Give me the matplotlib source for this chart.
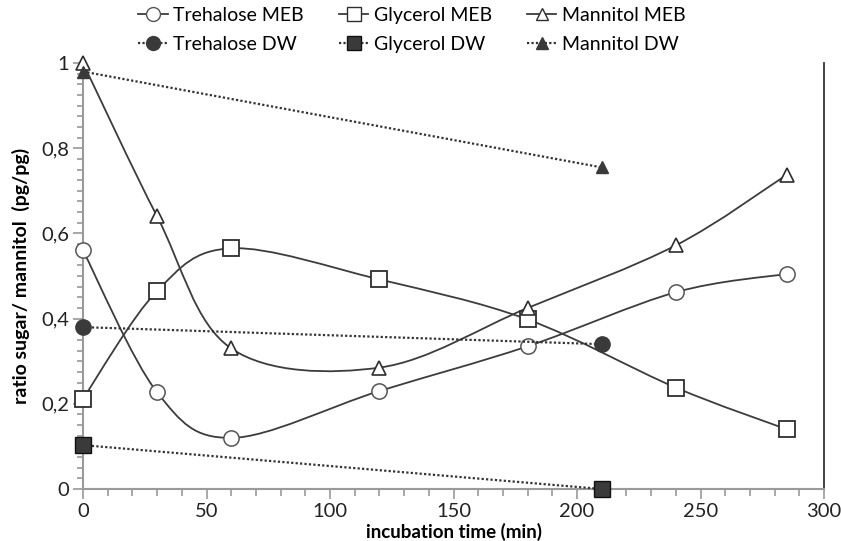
import numpy as np
import matplotlib
matplotlib.use('Agg')
import matplotlib.pyplot as plt
from matplotlib.path import Path
from matplotlib.patches import PathPatch
from matplotlib.lines import Line2D
from matplotlib.ticker import MultipleLocator, FuncFormatter

plt.rcParams['font.family'] = ['Lato', 'DejaVu Sans']

# data
t_meb = [0, 30, 60, 120, 180, 240, 285]
trehalose_meb = [0.56, 0.227, 0.12, 0.23, 0.335, 0.462, 0.505]
glycerol_meb = [0.212, 0.465, 0.565, 0.492, 0.398, 0.238, 0.14]
mannitol_meb = [1.0, 0.64, 0.33, 0.285, 0.425, 0.572, 0.738]

t_dw = [0, 210]
trehalose_dw = [0.38, 0.34]
glycerol_dw = [0.103, 0.0]
mannitol_dw = [0.98, 0.755]

line_col = '#3c3c3c'
mark_col = '#3a3a3a'
dots = (0, (1, 1.0))


def smooth_path(x, y):
    # excel-like smoothed line: catmull-rom as bezier segments
    p = np.column_stack([x, y]).astype(float)
    n = len(p)
    verts = [p[0]]
    codes = [Path.MOVETO]
    for i in range(n - 1):
        p0 = p[i - 1] if i > 0 else p[i]
        p3 = p[i + 2] if i + 2 < n else p[i + 1]
        c1 = p[i] + (p[i + 1] - p0) / 6.0
        c2 = p[i + 1] - (p3 - p[i]) / 6.0
        verts += [c1, c2, p[i + 1]]
        codes += [Path.CURVE4] * 3
    return Path(verts, codes)


fig = plt.figure(figsize=(8.41, 5.41), dpi=100)
ax = fig.add_axes([0.0987, 0.0961, 0.8811, 0.7874])

for ys in [trehalose_meb, glycerol_meb, mannitol_meb]:
    ax.add_patch(PathPatch(smooth_path(t_meb, ys), fill=False, ec=line_col, lw=1.3))

ax.plot(t_meb, trehalose_meb, ls='none', marker='o', ms=11, mfc='white', mec='#555555', mew=1.1, clip_on=False, zorder=3)
ax.plot(t_meb, glycerol_meb, ls='none', marker='s', ms=11, mfc='white', mec='#2e2e2e', mew=1.3, clip_on=False, zorder=3)
ax.plot(t_meb, mannitol_meb, ls='none', marker='^', ms=10, mfc='white', mec='#2e2e2e', mew=1.2, clip_on=False, zorder=3)

ax.plot(t_dw, trehalose_dw, ls=dots, lw=1.6, color='#333333', marker='o', ms=11, mfc=mark_col, mec=mark_col, clip_on=False, zorder=3)
ax.plot(t_dw, glycerol_dw, ls=dots, lw=1.6, color='#333333', marker='s', ms=11, mfc=mark_col, mec='#111111', clip_on=False, zorder=3)
ax.plot(t_dw, mannitol_dw, ls=dots, lw=1.6, color='#333333', marker='^', ms=9, mfc=mark_col, mec=mark_col, clip_on=False, zorder=3)

ax.set_xlim(0, 300)
ax.set_ylim(0, 1)
ax.xaxis.set_major_locator(MultipleLocator(50))
ax.xaxis.set_minor_locator(MultipleLocator(10))
ax.yaxis.set_major_locator(MultipleLocator(0.2))
ax.yaxis.set_minor_locator(MultipleLocator(0.025))
ax.yaxis.set_major_formatter(FuncFormatter(lambda v, p: ('%g' % round(v, 2)).replace('.', ',')))

ax.spines['top'].set_visible(False)
ax.spines['left'].set_color('#9a9a9a')
ax.spines['bottom'].set_color('#9a9a9a')
ax.spines['right'].set_color('#333333')
ax.spines['left'].set_linewidth(1.5)
ax.spines['bottom'].set_linewidth(1.5)
ax.spines['right'].set_linewidth(1.3)
ax.tick_params(which='both', direction='out', color='#9a9a9a', width=1.2)
ax.tick_params(which='major', length=7, labelsize=14.5, pad=3, labelcolor='#222222')
ax.tick_params(which='minor', length=5)
ax.tick_params(axis='y', which='minor', length=4)
ax.tick_params(right=False)

ax.set_xlabel('incubation time (min)', fontsize=13.5, fontweight='bold')
ax.xaxis.set_label_coords(0.5, -0.1)
ax.xaxis.label.set_va('center')
ax.set_ylabel('ratio sugar/ mannitol  (pg/pg)', fontsize=14, fontweight='bold', labelpad=8)

handles = [
    Line2D([], [], color=line_col, lw=1.3, marker='o', ms=10, mfc='white', mec='#555555'),
    Line2D([], [], color='#333333', lw=1.6, ls=dots, marker='o', ms=10, mfc=mark_col, mec=mark_col),
    Line2D([], [], color=line_col, lw=1.3, marker='s', ms=10, mfc='white', mec='#2e2e2e'),
    Line2D([], [], color='#333333', lw=1.6, ls=dots, marker='s', ms=10, mfc=mark_col, mec='#111111'),
    Line2D([], [], color=line_col, lw=1.3, marker='^', ms=9, mfc='white', mec='#2e2e2e'),
    Line2D([], [], color='#333333', lw=1.6, ls=dots, marker='^', ms=8, mfc=mark_col, mec=mark_col),
]
labels = ['Trehalose MEB', 'Trehalose DW', 'Glycerol MEB', 'Glycerol DW', 'Mannitol MEB', 'Mannitol DW']
fig.legend(handles, labels, loc='upper center', bbox_to_anchor=(0.49, 1.02), ncol=3, frameon=False,
           fontsize=14, handlelength=1.5, handletextpad=0.3, columnspacing=1.8, labelspacing=0.62)

fig.savefig('out.png', dpi=100)
